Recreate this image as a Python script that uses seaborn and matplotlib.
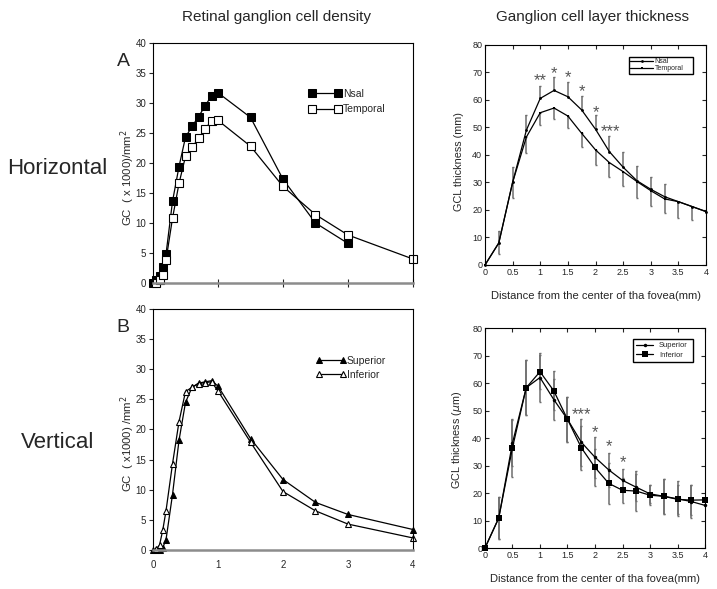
import matplotlib
matplotlib.use("Agg")
import matplotlib.pyplot as plt
import seaborn as sns
import numpy as np

# --- Retinal ganglion cell density (x1000 cells / mm2) ---
# A: horizontal meridian
nsal_x = [0, 0.05, 0.1, 0.15, 0.2, 0.3, 0.4, 0.5, 0.6, 0.7, 0.8, 0.9, 1.0, 1.5, 2.0, 2.5, 3.0]
nsal_gc = [0.0, 0.5, 1.2, 2.6, 4.8, 13.6, 19.4, 24.3, 26.1, 27.7, 29.5, 31.2, 31.7, 27.6, 17.3, 10.0, 6.6]
temp_x = [0.05, 0.1, 0.15, 0.2, 0.3, 0.4, 0.5, 0.6, 0.7, 0.8, 0.9, 1.0, 1.5, 2.0, 2.5, 3.0, 4.0]
temp_gc = [0.0, 0.5, 1.4, 3.8, 10.8, 16.6, 21.1, 22.6, 24.1, 25.7, 27.0, 27.1, 22.8, 16.1, 11.4, 8.0, 4.0]

# B: vertical meridian
sup_x = [0, 0.05, 0.1, 0.15, 0.2, 0.3, 0.4, 0.5, 0.6, 0.7, 0.8, 0.9, 1.0, 1.5, 2.0, 2.5, 3.0, 4.0]
sup_gc = [0.0, 0.0, 0.0, 0.4, 1.7, 9.2, 18.2, 24.5, 27.0, 27.7, 27.9, 28.1, 27.2, 18.5, 11.7, 7.9, 5.9, 3.4]
inf_x = [0.05, 0.1, 0.15, 0.2, 0.3, 0.4, 0.5, 0.6, 0.7, 0.8, 0.9, 1.0, 1.5, 2.0, 2.5, 3.0, 4.0]
inf_gc = [0.2, 0.8, 3.3, 6.5, 14.3, 21.3, 26.3, 27.0, 27.6, 27.8, 27.9, 26.4, 17.9, 9.7, 6.5, 4.3, 2.0]

# --- Ganglion cell layer thickness ---
dist = [0, 0.25, 0.5, 0.75, 1.0, 1.25, 1.5, 1.75, 2.0, 2.25, 2.5, 2.75, 3.0, 3.25, 3.5, 3.75, 4.0]
nsal_thk = [0, 8.0, 30.0, 49.0, 60.5, 63.4, 61.1, 56.3, 49.3, 41.2, 35.5, 30.6, 27.5, 24.8, 23.0, 21.2, 19.4]
temp_thk = [0, 8.0, 30.0, 46.5, 55.3, 57.0, 54.1, 47.8, 41.8, 37.2, 33.9, 30.3, 27.0, 24.0, 23.0, 21.2, 19.4]
nsal_err = [0, 4.5, 5.5, 5.5, 4.5, 5.0, 5.2, 5.0, 5.0, 5.5, 5.7, 5.3, 4.5, 4.6, 0, 0, 0]
temp_err = [0, 4.0, 5.5, 6.0, 4.3, 3.8, 4.3, 4.8, 5.6, 5.3, 5.2, 6.0, 5.5, 5.2, 6.0, 4.7, 0]

sup_thk = [0, 10.9, 38.2, 58.3, 62.0, 54.0, 46.8, 38.5, 33.0, 28.4, 24.6, 22.1, 19.7, 18.8, 17.9, 16.9, 15.5]
inf_thk = [0, 10.9, 36.5, 58.3, 64.1, 57.2, 46.8, 36.5, 29.3, 23.5, 21.0, 20.7, 19.2, 18.8, 17.7, 17.4, 17.5]
sup_sd = [0, 7.5, 8.5, 10.0, 9.0, 7.5, 8.2, 8.5, 7.4, 6.1, 4.2, 4.9, 3.3, 6.3, 6.3, 6.0, 0]
inf_sd = [0, 7.5, 10.5, 10.0, 6.2, 7.0, 8.2, 8.0, 6.6, 7.5, 4.5, 7.4, 3.7, 6.3, 5.2, 5.4, 0]

# significance marks
star_h_x = [1.0, 1.25, 1.5, 1.75, 2.0, 2.27]
star_h_y = [67.0, 69.5, 68.0, 63.0, 55.5, 48.5]
star_h_txt = ["**", "*", "*", "*", "*", "***"]
star_v_x = [1.76, 2.0, 2.25, 2.5]
star_v_y = [48.5, 42.1, 36.9, 30.9]
star_v_txt = ["***", "*", "*", "*"]

sns.set_style("ticks")
plt.rcParams["font.family"] = ["Liberation Sans", "DejaVu Sans"]

fig = plt.figure(figsize=(7.17, 5.89), dpi=100)
axA = fig.add_axes([0.2134, 0.5195, 0.3626, 0.4075])
axB = fig.add_axes([0.2134, 0.0662, 0.3626, 0.4092])
axC = fig.add_axes([0.6764, 0.5501, 0.3083, 0.3740])
axD = fig.add_axes([0.6764, 0.0696, 0.3069, 0.3735])


def style_density(ax, ylabel, xlabels):
    ax.set_xlim(0, 4)
    ax.set_ylim(0, 40)
    ax.set_yticks(range(0, 41, 5))
    ax.set_xticks([0, 1, 2, 3, 4])
    for s in ["top", "right", "left"]:
        ax.spines[s].set_visible(True)
        ax.spines[s].set_color("black")
        ax.spines[s].set_linewidth(0.8)
    ax.spines["bottom"].set_color("#8c8c8c")
    ax.spines["bottom"].set_linewidth(1.8)
    ax.tick_params(axis="y", direction="out", length=3, width=0.8, labelsize=7, pad=2)
    if xlabels:
        ax.tick_params(axis="x", length=0, labelsize=7, pad=7)
    else:
        ax.tick_params(axis="x", direction="inout", length=6, width=0.8,
                       labelbottom=False)
    ax.set_ylabel(ylabel, fontsize=8.2)
    ax.yaxis.set_label_coords(-0.063, 0.44)


def style_thick(ax, ylabel, label_y):
    ax.set_xlim(0, 4)
    ax.set_ylim(0, 80)
    ax.set_xticks(dist[::2])
    ax.set_xticklabels([f"{v:g}" for v in dist[::2]])
    ax.set_yticks(range(0, 81, 10))
    for s in ax.spines.values():
        s.set_visible(True)
        s.set_color("black")
        s.set_linewidth(0.8)
    ax.tick_params(direction="in", length=3, width=0.8, labelsize=6.5, pad=2,
                   top=True, right=True)
    ax.set_ylabel(ylabel, fontsize=7.8)
    ax.yaxis.set_label_coords(-0.095, label_y)
    ax.set_xlabel("Distance from the center of tha fovea(mm)", fontsize=8, labelpad=10)


# A: horizontal density
sns.lineplot(x=nsal_x, y=nsal_gc, ax=axA, color="black", lw=0.9, marker="s",
             markersize=5.5, markerfacecolor="black", markeredgecolor="black",
             label="Nsal", clip_on=False)
sns.lineplot(x=temp_x, y=temp_gc, ax=axA, color="black", lw=0.9, marker="s",
             markersize=5.5, markerfacecolor="white", markeredgecolor="black",
             markeredgewidth=0.8, label="Temporal", clip_on=False)
style_density(axA, "GC  ( x 1000)/mm$^2$", False)
axA.legend(loc="upper left", bbox_to_anchor=(0.6, 0.81), frameon=False, numpoints=2,
           handlelength=3.1, handletextpad=0.15, fontsize=7.5, labelspacing=0.55,
           borderpad=0, borderaxespad=0)

# B: vertical density
sns.lineplot(x=sup_x, y=sup_gc, ax=axB, color="black", lw=0.9, marker="^",
             markersize=5, markerfacecolor="black", markeredgecolor="black",
             label="Superior", clip_on=False)
sns.lineplot(x=inf_x, y=inf_gc, ax=axB, color="black", lw=0.9, marker="^",
             markersize=5, markerfacecolor="white", markeredgecolor="black",
             markeredgewidth=0.8, label="Inferior", clip_on=False)
style_density(axB, "GC  ( x1000) /mm$^2$", True)
axB.legend(loc="upper left", bbox_to_anchor=(0.625, 0.805), frameon=False, numpoints=2,
           handlelength=2.9, handletextpad=0.1, fontsize=7.5, labelspacing=0.35,
           borderpad=0, borderaxespad=0)

# C: horizontal thickness
zeros = np.zeros(len(dist))
axC.errorbar(dist, nsal_thk, yerr=[zeros, nsal_err], fmt="none", ecolor="#6e6e6e",
             elinewidth=1.1, capsize=1, zorder=1)
axC.errorbar(dist, temp_thk, yerr=[temp_err, zeros], fmt="none", ecolor="#6e6e6e",
             elinewidth=1.1, capsize=1, zorder=1)
sns.lineplot(x=dist, y=nsal_thk, ax=axC, color="black", lw=0.9, marker="o",
             markersize=2, markeredgewidth=0, label="Nsal", clip_on=False, zorder=3)
sns.lineplot(x=dist, y=temp_thk, ax=axC, color="black", lw=0.9, marker="s",
             markersize=2, markeredgewidth=0, label="Temporal", clip_on=False, zorder=3)
for x, y, t in zip(star_h_x, star_h_y, star_h_txt):
    axC.text(x, y, t, ha="center", va="center", fontsize=12, color="#555555")
style_thick(axC, "GCL thickness (mm)", 0.468)
axC.legend(loc="upper left", bbox_to_anchor=(0.652, 0.7, 0.289, 0.2455), mode="expand",
           fontsize=5, frameon=True, fancybox=False, edgecolor="black", framealpha=1,
           handlelength=3.2, borderpad=0.2, labelspacing=0.05, borderaxespad=0,
           handletextpad=0.3)

# D: vertical thickness
axD.errorbar(dist, sup_thk, yerr=sup_sd, fmt="none", ecolor="#6e6e6e",
             elinewidth=1.1, capsize=1, zorder=1)
axD.errorbar(dist, inf_thk, yerr=inf_sd, fmt="none", ecolor="#6e6e6e",
             elinewidth=1.1, capsize=1, zorder=1)
sns.lineplot(x=dist, y=sup_thk, ax=axD, color="black", lw=0.9, marker="o",
             markersize=2.5, markeredgewidth=0, label="Superior", clip_on=False, zorder=3)
sns.lineplot(x=dist, y=inf_thk, ax=axD, color="black", lw=0.9, marker="s",
             markersize=4.5, markeredgewidth=0, label="Inferior", clip_on=False, zorder=3)
for x, y, t in zip(star_v_x, star_v_y, star_v_txt):
    axD.text(x, y, t, ha="center", va="center", fontsize=12, color="#555555")
style_thick(axD, "GCL thickness ($\\mu$m)", 0.49)
axD.legend(loc="upper left", bbox_to_anchor=(0.673, 0.7, 0.272, 0.25), mode="expand",
           fontsize=5.5, frameon=True, fancybox=False, edgecolor="black", framealpha=1,
           handlelength=2.2, borderpad=0.4, labelspacing=0.3, borderaxespad=0)

# figure labels
fig.text(276 / 717, 1 - 17 / 589, "Retinal ganglion cell density", ha="center",
         va="center", fontsize=11)
fig.text(592 / 717, 1 - 17 / 589, "Ganglion cell layer thickness", ha="center",
         va="center", fontsize=11)
fig.text(57 / 717, 1 - 168 / 589, "Horizontal", ha="center", va="center", fontsize=16)
fig.text(58 / 717, 1 - 443 / 589, "Vertical", ha="center", va="center", fontsize=16)
fig.text(123 / 717, 1 - 61 / 589, "A", ha="center", va="center", fontsize=14)
fig.text(123 / 717, 1 - 327 / 589, "B", ha="center", va="center", fontsize=14)

fig.savefig("out.png", dpi=100)
